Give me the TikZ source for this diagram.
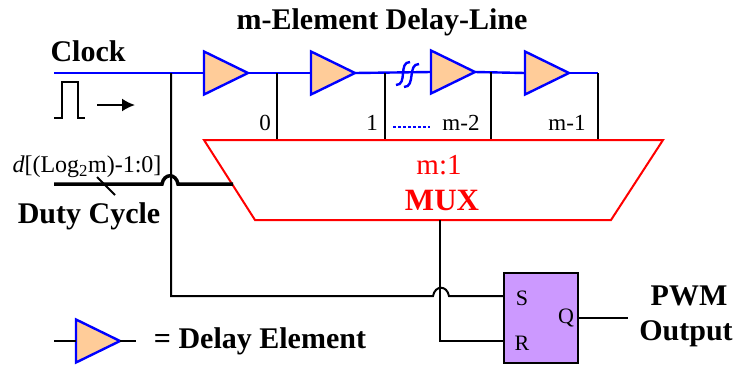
\documentclass[tikz,border=0pt]{standalone}
\usepackage{fontspec}
\setmainfont{Liberation Serif}
\usetikzlibrary{shapes.geometric,arrows.meta}
\definecolor{peach}{HTML}{FFCC99}
\definecolor{lilac}{HTML}{CC99FF}
\tikzset{
  delaybuf/.style={isosceles triangle,isosceles triangle stretches,draw=blue,fill=peach,line width=2.4pt,minimum width=43pt,minimum height=44pt,inner sep=0pt,outer sep=0pt,anchor=lower side},
  blueline/.style={draw=blue,line width=2.4pt},
  wire/.style={draw=black,line width=2pt},
  bus/.style={draw=black,line width=3.5pt},
  boldtxt/.style={font=\fontsize{30}{32}\selectfont\bfseries,inner sep=0pt},
  tap/.style={font=\fontsize{23}{25}\selectfont,inner sep=0pt},
  pin/.style={font=\fontsize{22}{24}\selectfont,inner sep=0pt}
}
\begin{document}
\begin{tikzpicture}[x=1pt,y=-1pt]
  \useasboundingbox (0,0) rectangle (736,365);
  \node[delaybuf] (del0) at (204,73) {};
  \node[delaybuf] (del1) at (311,73) {};
  \node[delaybuf] (del2) at (431,72) {};
  \node[delaybuf] (del3) at (525,73) {};
  \node[delaybuf] (legbuf) at (76,341) {};
  \node[draw=black,fill=lilac,line width=2pt,minimum width=74pt,minimum height=90pt,inner sep=0pt,outer sep=0pt] (sr) at (541,318) {};
  \coordinate (clkin) at (54,73);
  \coordinate (clktap) at (171,73);
  \coordinate (tap0) at (277,73);
  \coordinate (tap1) at (385,73);
  \coordinate (tap2) at (491,72);
  \coordinate (tap3) at (598,73);
  \coordinate (mux0) at (277,140);
  \coordinate (mux1) at (385,140);
  \coordinate (mux2) at (491,140);
  \coordinate (mux3) at (598,140);
  \coordinate (muxout) at (440,220);
  \coordinate (muxsel) at (233,184);
  \coordinate (dutyin) at (54,184);
  \coordinate (srs) at (sr.west |- 0,296);
  \coordinate (srr) at (sr.west |- 0,341);
  \coordinate (pwm) at (628,318);
  \draw[blueline] (clkin) -- (del0.lower side);
  \draw[blueline] (del0.apex) -- (del1.lower side);
  \draw[blueline] (del1.apex) -- (del2.lower side);
  \draw[blueline] (del2.apex) -- (del3.lower side);
  \draw[blueline] (del3.apex) -- (tap3);
  \draw[blueline] (396,85) .. controls (408,85) and (398,62) .. (410,62);
  \draw[blueline] (404,87) .. controls (416,87) and (407,64) .. (419,64);
  \draw[blueline,dash pattern=on 3pt off 2pt,line width=2pt] (393,127) -- (430,127);
  \draw[wire] (tap0) -- (mux0);
  \draw[wire] (tap1) -- (mux1);
  \draw[wire] (tap2) -- (mux2);
  \draw[wire] (tap3) -- (mux3);
  \draw[draw=red,line width=2pt] (204,140) -- (663,140) -- (611,220) -- (255,220) -- cycle;
  \draw[bus] (dutyin) -- (162,184) .. controls (164,173) and (176,173) .. (178,184) -- (muxsel);
  \draw[wire] (97,177) -- (115,195);
  \draw[wire] (clktap) -- (171,296) -- (433,296) .. controls (435,285) and (447,285) .. (449,296) -- (srs);
  \draw[wire] (muxout) -- (440,341) -- (srr);
  \draw[wire] (sr.east) -- (pwm);
  \draw[wire] (54,341) -- (legbuf.lower side);
  \draw[wire] (legbuf.apex) -- (136,341);
  \draw[wire] (54,118) -- (62,118) -- (62,82) -- (78,82) -- (78,118) -- (85,118);
  \draw[wire,-{Latex[length=13pt,width=13pt]}] (97,105) -- (135,105);
  \node[boldtxt] (title) at (382,22) {m-Element Delay-Line};
  \node[boldtxt] (clock) at (88,51) {Clock};
  \node[boldtxt] (duty) at (89,216) {Duty Cycle};
  \node[tap,font=\fontsize{24}{26}\selectfont] (dbits) at (87,167) {\textit{d}[(Log\textsubscript{2}m)-1:0]};
  \node[tap] (lab0) at (265,123) {0};
  \node[tap] (lab1) at (372,123) {1};
  \node[tap] (lab2) at (461,123) {m-2};
  \node[tap] (lab3) at (567,123) {m-1};
  \node[tap,text=red,font=\fontsize{29}{31}\selectfont] (muxratio) at (439,165) {m:1};
  \node[boldtxt,text=red,font=\fontsize{31}{33}\selectfont\bfseries] (muxname) at (442,200) {MUX};
  \node[pin] (pins) at (522,298) {S};
  \node[pin] (pinr) at (522,343) {R};
  \node[pin] (pinq) at (566,318) {Q};
  \node[boldtxt] (pwmtxt) at (689,296) {PWM};
  \node[boldtxt] (outtxt) at (686,334) {Output};
  \node[boldtxt] (legtxt) at (260,341) {= Delay Element};
\end{tikzpicture}
\end{document}
